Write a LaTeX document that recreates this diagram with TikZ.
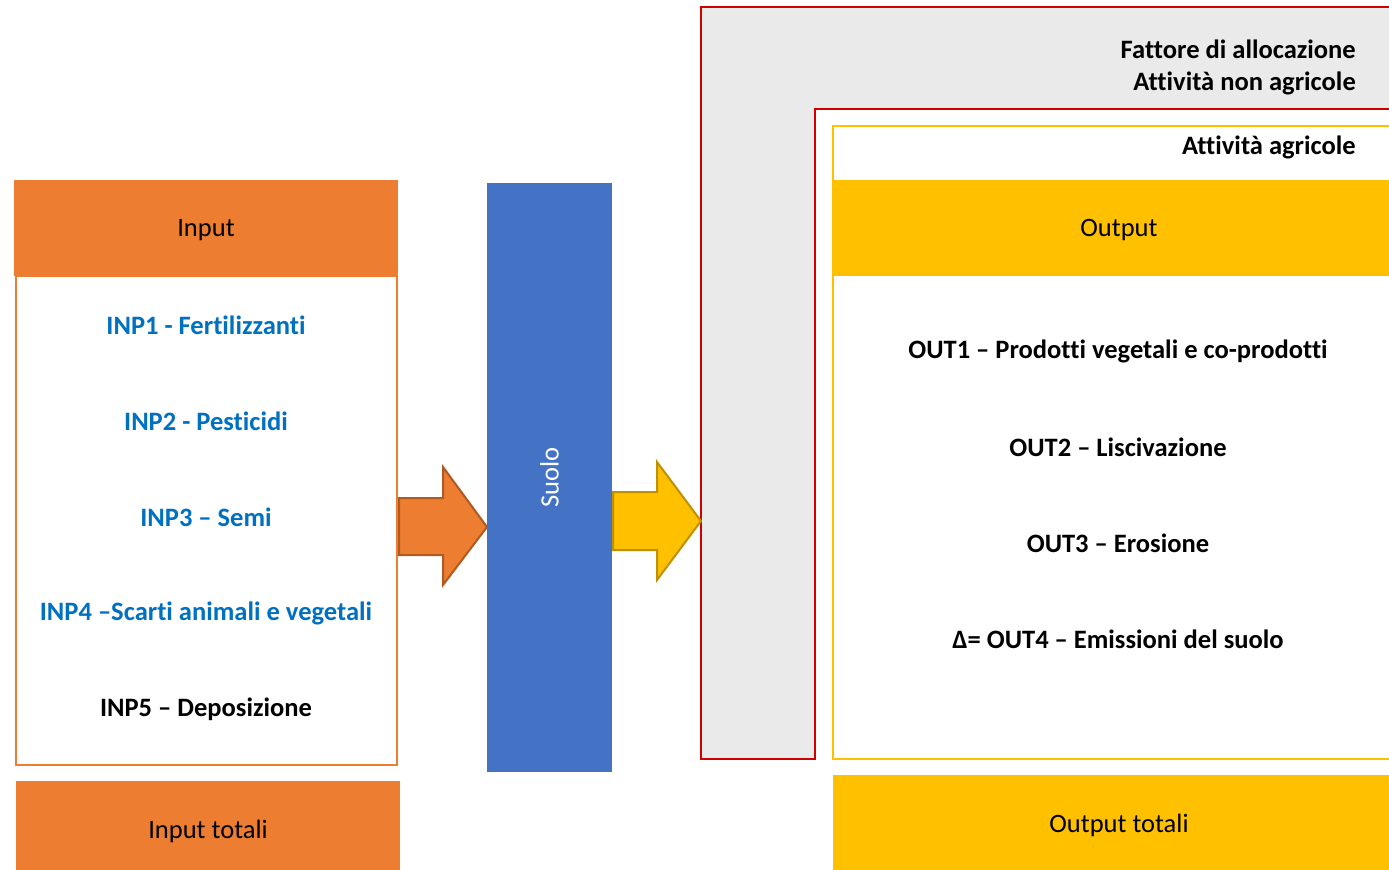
\documentclass[tikz,border=0pt]{standalone}
\usepackage{fontspec}
\setmainfont[RawFeature={-liga;-clig;-calt;-dlig;-rlig}]{Carlito}
\usepackage{xcolor}
\usetikzlibrary{positioning}
\definecolor{inorange}{HTML}{ED7D31}
\definecolor{inorangedark}{HTML}{AE5A21}
\definecolor{soilblue}{HTML}{4472C4}
\definecolor{outyellow}{HTML}{FFC000}
\definecolor{outyellowdark}{HTML}{BF9000}
\definecolor{allocred}{HTML}{D00000}
\definecolor{allocgray}{HTML}{EAEAEA}
\definecolor{itemblue}{HTML}{0070C0}

\begin{document}
\begin{tikzpicture}[x=0.75pt, y=-0.75pt,
  txt/.style={font=\fontsize{19.9}{24}\selectfont, inner sep=0pt},
  item/.style={txt, font=\fontsize{19.9}{24}\selectfont\bfseries},
  header/.style={rectangle, txt, minimum height=72pt, inner sep=0pt, text depth=0pt},
  framebox/.style={rectangle, draw, line width=1.5pt, inner sep=0pt},
  blockarrow/.style={line width=1.5pt, line join=miter}
]
\useasboundingbox (0,0) rectangle (1389,869);
\clip (0,0) rectangle (1389,869);
\fill[white] (0,0) rectangle (1389,869);

% allocation frame (non agricultural activities)
\draw[fill=allocgray, draw=allocred, line width=1.5pt]
  (1420,7) -- (701,7) -- (701,759) -- (815,759) -- (815,109) -- (1420,109);
\node[txt, align=right, anchor=north east] (alloc) at (1356,40)
  {\bfseries Fattore di allocazione\\\bfseries Attività non agricole};

% output side
\node[framebox, draw=outyellow, minimum width=429pt, minimum height=474.75pt]
  (outframe) at (1119,442.5) {};
\node[item, anchor=base east] (agri) at (1356,154) {Attività agricole};
\node[header, fill=outyellow, minimum width=429pt] (outhead) at (1119,228) {Output};
\node[item] (out1) at (1118,351) {OUT1 – Prodotti vegetali e co-prodotti};
\node[item] (out2) at (1118,447) {OUT2 – Liscivazione};
\node[item] (out3) at (1118,543) {OUT3 – Erosione};
\node[item] (out4) at (1118,639) {Δ= OUT4 – Emissioni del suolo};
\node[header, fill=outyellow, minimum width=429pt] (outtot) at (1119,823) {Output totali};

% input side
\node[framebox, draw=inorange, minimum width=285.75pt, minimum height=366.75pt]
  (inlist) at (206.5,520.5) {};
\node[header, fill=inorange, minimum width=288pt] (inhead) at (206,228) {Input};
\node[item, text=itemblue] (inp1) at (206,325) {INP1 - Fertilizzanti};
\node[item, text=itemblue] (inp2) at (206,421) {INP2 - Pesticidi};
\node[item, text=itemblue] (inp3) at (206,517) {INP3 – Semi};
\node[item, text=itemblue] (inp4) at (206,613) {INP4 –Scarti animali e vegetali};
\node[item] (inp5) at (206,709) {INP5 – Deposizione};
\node[header, fill=inorange, minimum width=288pt] (intot) at (208,829) {Input totali};

% soil
\node[rectangle, fill=soilblue, txt, text=white, rotate=90,
      minimum width=441.75pt, minimum height=93.75pt] (suolo) at (549.5,477.5) {Suolo};

% block arrows
\draw[blockarrow, fill=inorange, draw=inorangedark]
  (399,498) -- (443,498) -- (443,467) -- (487,527) -- (443,585) -- (443,555) -- (399,555) -- cycle;
\draw[blockarrow, fill=outyellow, draw=outyellowdark]
  (613,492) -- (657,492) -- (657,462) -- (701,521) -- (657,580) -- (657,550) -- (613,550) -- cycle;

\end{tikzpicture}
\end{document}
